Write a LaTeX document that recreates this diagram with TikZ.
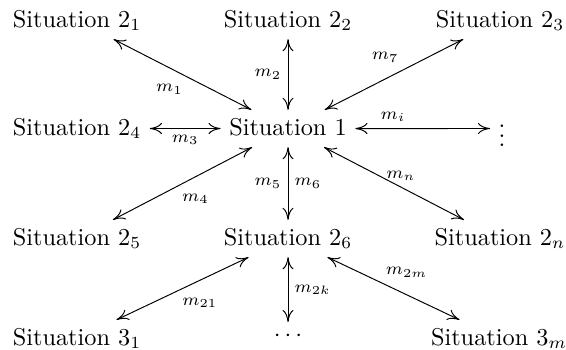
\documentclass[tikz,border=0pt]{standalone}
\usepackage{tikz}
\usetikzlibrary{arrows.meta}

\begin{document}
\begin{tikzpicture}[x=0.4115pt, y=-0.4115pt,
    sit/.style={anchor=base, text height=6.83pt, text depth=1.5pt},
    link/.style={<->, >={Computer Modern Rightarrow[length=5pt,width=4.6pt]}},
    lbl/.style={font=\scriptsize, inner sep=2.5pt}]
    \useasboundingbox (0,0) rectangle (566,349);

    % Situations
    \node[sit] (s21) at (77,27) {Situation $2_1$};
    \node[sit] (s22) at (288,27) {Situation $2_2$};
    \node[sit] (s23) at (500,27) {Situation $2_3$};
    \node[sit] (s24) at (77,135) {Situation $2_4$};
    \node[sit] (s1) at (288,135) {Situation 1};
    \node (vd) at (502,128.5) {$\vdots$};
    \node[sit] (s25) at (77,245) {Situation $2_5$};
    \node[sit] (s26) at (288,245) {Situation $2_6$};
    \node[sit] (s2n) at (500,245) {Situation $2_n$};
    \node[sit] (s31) at (77,345) {Situation $3_1$};
    \node (cd) at (288,336) {$\cdots$};
    \node[sit] (s3m) at (499,345) {Situation $3_m$};

    % Messages around Situation 1
    \draw[link] (s21) -- node[lbl, below left, pos=0.55] {$m_1$} (s1);
    \draw[link] (s22) -- node[lbl, left] {$m_2$} (s1);
    \draw[link] (s23) -- node[lbl, above left, pos=0.42] {$m_7$} (s1);
    \draw[link] (s24) -- node[lbl, below] {$m_3$} (s1);
    \draw[link] (s1) -- node[lbl, above, pos=0.28] {$m_i$} (vd);
    \draw[link] (s25) -- node[lbl, below right, pos=0.45] {$m_4$} (s1);
    \draw[link] (s1) -- node[lbl, left] {$m_5$} node[lbl, right] {$m_6$} (s26);
    \draw[link] (s1) -- node[lbl, above, pos=0.55] {$m_n$} (s2n);

    % Messages around Situation 2_6
    \draw[link] (s31) -- node[lbl, below right, pos=0.45] {$m_{21}$} (s26);
    \draw[link] (s26) -- node[lbl, right] {$m_{2k}$} (cd);
    \draw[link] (s26) -- node[lbl, above=4.5pt, pos=0.6] {$m_{2m}$} (s3m);
\end{tikzpicture}
\end{document}
